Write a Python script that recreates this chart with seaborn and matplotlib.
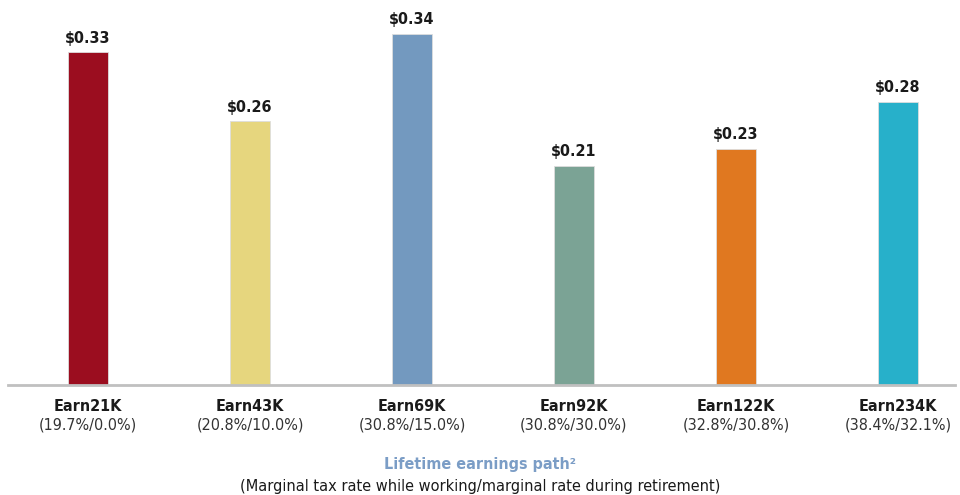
import matplotlib
matplotlib.use("Agg")
import matplotlib.pyplot as plt
import seaborn as sns
import pandas as pd

# dados
paths = ["Earn21K", "Earn43K", "Earn69K", "Earn92K", "Earn122K", "Earn234K"]
rates = ["(19.7%/0.0%)", "(20.8%/10.0%)", "(30.8%/15.0%)",
         "(30.8%/30.0%)", "(32.8%/30.8%)", "(38.4%/32.1%)"]
values = [0.323, 0.256, 0.341, 0.213, 0.229, 0.275]
value_labels = ["$0.33", "$0.26", "$0.34", "$0.21", "$0.23", "$0.28"]
colors = ["#9b0d1f", "#e6d67e", "#7399bf", "#7ba395", "#e07820", "#27b0ca"]

df = pd.DataFrame({"path": paths, "value": values})

sns.set_style("white")
plt.rcParams["font.family"] = ["DejaVu Sans"]
plt.rcParams["font.stretch"] = "condensed"

fig = plt.figure(figsize=(9.6, 4.95), dpi=100)
ax = fig.add_axes([8 / 960, 110 / 495, 947 / 960, 385 / 495])

sns.barplot(data=df, x="path", y="value", hue="path", palette=colors,
            order=paths, hue_order=paths, legend=False, width=0.247,
            saturation=1, edgecolor="#dddddd", linewidth=0.6, ax=ax)

# um container por hue, então um rótulo por barra
for cont, lab in zip(ax.containers, value_labels):
    ax.bar_label(cont, labels=[lab], padding=5, fontsize=11.5,
                 fontweight="bold", color="#1a1a1a")

ax.set_xlim(-0.494, 5.352)
ax.set_ylim(0, 0.374)
ax.set_xlabel("")
ax.set_ylabel("")
ax.set_yticks([])
ax.set_xticks(range(len(paths)))
ax.set_xticklabels(paths, fontsize=11.5, fontweight="bold", color="#1a1a1a")
ax.tick_params(axis="x", length=0, pad=10)

for i, r in enumerate(rates):
    ax.annotate(r, xy=(i, 0), xycoords=("data", "axes fraction"),
                xytext=(0, -45), textcoords="offset pixels",
                ha="center", va="baseline", fontsize=11.5, color="#333333")

sns.despine(ax=ax, left=True, top=True, right=True)
ax.spines["bottom"].set_color("#c0c0c0")
ax.spines["bottom"].set_linewidth(2)

fig.text(0.5, 1 - 469 / 495, "Lifetime earnings path²", ha="center",
         va="baseline", fontsize=11.5, fontweight="bold", color="#7b9dc6")
fig.text(0.5, 1 - 491 / 495,
         "(Marginal tax rate while working/marginal rate during retirement)",
         ha="center", va="baseline", fontsize=11.7, color="#1a1a1a")

plt.savefig("out.png", dpi=100)
plt.close()
